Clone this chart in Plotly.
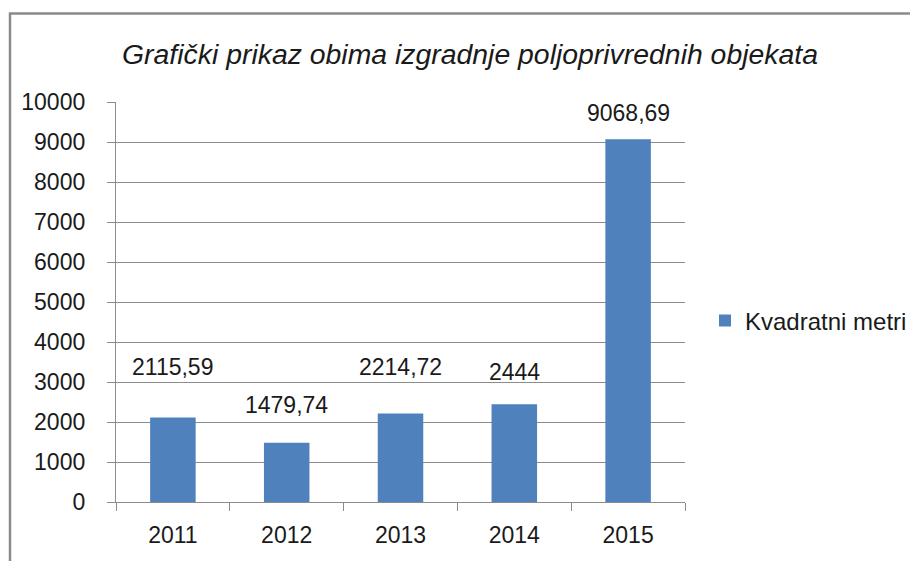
import plotly.graph_objects as go

years = ["2011", "2012", "2013", "2014", "2015"]
values = [2115.59, 1479.74, 2214.72, 2444, 9068.69]
labels = ["2115,59", "1479,74", "2214,72", "2444", "9068,69"]
label_shift = [50, 38, 46, 32, 26]
series_name = "Kvadratni metri"
title_text = "Grafički prikaz obima izgradnje poljoprivrednih objekata"

W, H = 918, 561
OFF = 8  # page body margin offset
# plot area in screen pixels
SX0, SX1, SY0, SY1 = 116, 685, 102, 502
L = SX0 - OFF
T = SY0 - OFF
R = W - (SX1 - OFF)
B = H - (SY1 - OFF)
pw = W - L - R
ph = H - T - B
FONT = "Liberation Sans"
TXT = "#1a1a1a"
GRID = "#8c8c8c"
FS = 23

fig = go.Figure()
fig.add_trace(go.Bar(x=years, y=values, name=series_name,
                     marker=dict(color="#4F81BD", line=dict(width=0)),
                     showlegend=True))

annotations = []
for i, (v, lab, s) in enumerate(zip(values, labels, label_shift)):
    annotations.append(dict(x=i, y=v, xref="x", yref="y", text=lab, showarrow=False,
                            yanchor="middle", yshift=s,
                            font=dict(family=FONT, size=FS, color=TXT)))

def px_x(p):  # screen px -> paper
    return (p - OFF - L) / pw
def px_y(p):
    return 1 - (p - OFF - T) / ph

shapes = [
    dict(type="line", xref="paper", yref="paper", x0=px_x(10), x1=px_x(10), y0=px_y(13), y1=px_y(620),
         line=dict(color="#8a8a8a", width=2.5)),
    dict(type="line", xref="paper", yref="paper", x0=px_x(9), x1=px_x(980), y0=px_y(13.5), y1=px_y(13.5),
         line=dict(color="#8a8a8a", width=2.5)),
]

fig.update_layout(
    width=W, height=H,
    margin=dict(l=L, r=R, t=T, b=B, autoexpand=False),
    paper_bgcolor="white", plot_bgcolor="white",
    title=dict(text=title_text, x=(470 - OFF) / W, xanchor="center", xref="container",
               y=(H - (54 - OFF)) / H, yanchor="middle", yref="container",
               font=dict(family=FONT, size=28.4, color=TXT, style="italic")),
    bargap=0.6,
    font=dict(family=FONT, size=FS, color=TXT),
    showlegend=True,
    legend=dict(x=px_x(705), y=px_y(321), xanchor="left", yanchor="middle",
                font=dict(family=FONT, size=24, color=TXT),
                itemwidth=30, bgcolor="rgba(0,0,0,0)"),
    annotations=annotations,
    shapes=shapes,
)
fig.update_xaxes(type="category", showline=True, linecolor=GRID, linewidth=1.3,
                 ticks="outside", tickson="boundaries", ticklen=8, tickcolor=GRID, tickwidth=1.3,
                 showgrid=False, ticklabelstandoff=12, tickangle=0,
                 tickfont=dict(family=FONT, size=FS, color=TXT))
fig.update_yaxes(range=[0, 10000], dtick=1000, tickformat="d", showline=True, linecolor=GRID, linewidth=1.3,
                 ticks="outside", ticklen=8, tickcolor=GRID, tickwidth=1.3,
                 showgrid=True, gridcolor=GRID, gridwidth=1.3, zeroline=False,
                 ticklabelstandoff=17,
                 tickfont=dict(family=FONT, size=FS, color=TXT))

fig.write_html("out.html")
